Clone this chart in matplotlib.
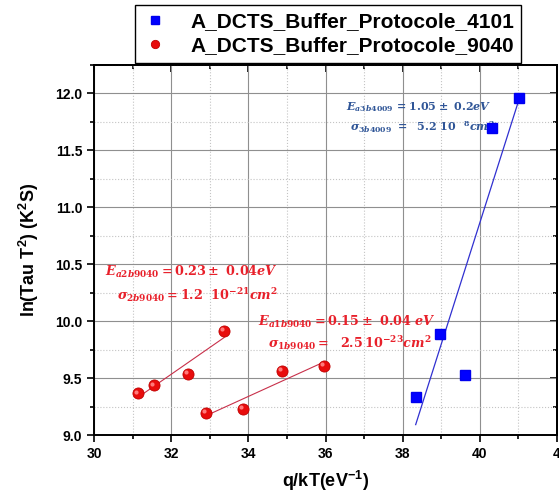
import numpy as np
import matplotlib
matplotlib.use("Agg")
import matplotlib.pyplot as plt
from matplotlib.ticker import MultipleLocator
from matplotlib import transforms

# Arrhenius data: q/kT (eV^-1) vs ln(tau T^2)
x_4101 = [38.34, 38.96, 39.61, 40.31, 41.01]
y_4101 = [9.33, 9.89, 9.53, 11.70, 11.96]

x_9040_low = [31.13, 31.54, 32.43, 33.37]   # second trap (a2b9040)
y_9040_low = [9.365, 9.435, 9.535, 9.913]
x_9040_high = [32.89, 33.86, 34.86, 35.95]  # first trap (a1b9040)
y_9040_high = [9.196, 9.228, 9.565, 9.608]

legend_labels = ["A_DCTS_Buffer_Protocole_4101", "A_DCTS_Buffer_Protocole_9040"]

plt.rcParams['font.family'] = ['Liberation Sans', 'DejaVu Sans']
plt.rcParams['mathtext.fontset'] = 'custom'
plt.rcParams['mathtext.rm'] = 'DejaVu Serif:bold'
plt.rcParams['mathtext.it'] = 'DejaVu Serif:italic:bold'
plt.rcParams['mathtext.bf'] = 'DejaVu Serif:bold'
plt.rcParams['mathtext.sf'] = 'Liberation Sans:bold'

fig = plt.figure(figsize=(5.59, 4.95), dpi=100)
ax = fig.add_axes([0.1687, 0.1212, 0.8272, 0.7475])

ax.set_xlim(30, 42)
ax.set_ylim(9.0, 12.25)
ax.xaxis.set_major_locator(MultipleLocator(2))
ax.xaxis.set_minor_locator(MultipleLocator(1))
ax.yaxis.set_major_locator(MultipleLocator(0.5))
ax.yaxis.set_minor_locator(MultipleLocator(0.25))

ax.grid(which='major', color='#8f8f8f', linewidth=0.8, linestyle='-')
ax.grid(which='minor', color='#c4c4c4', linewidth=0.8, linestyle=':')
ax.set_axisbelow(True)

for s in ax.spines.values():
    s.set_linewidth(1.4)

ax.tick_params(which='both', direction='out', top=False, right=False, width=1.2)
ax.tick_params(which='major', length=5)
ax.tick_params(which='minor', length=3)
# inward ticks on the top and right frames
ax_t = ax.secondary_xaxis('top')
ax_t.xaxis.set_major_locator(MultipleLocator(2))
ax_t.xaxis.set_minor_locator(MultipleLocator(1))
ax_t.tick_params(which='both', direction='in', labeltop=False, width=1.2)
ax_t.tick_params(which='major', length=5)
ax_t.tick_params(which='minor', length=3)
ax_t.spines['top'].set_linewidth(1.4)
ax_r = ax.secondary_yaxis('right')
ax_r.yaxis.set_major_locator(MultipleLocator(0.5))
ax_r.yaxis.set_minor_locator(MultipleLocator(0.25))
ax_r.tick_params(which='both', direction='in', labelright=False, width=1.2)
ax_r.tick_params(which='major', length=5)
ax_r.tick_params(which='minor', length=3)
ax_r.spines['right'].set_linewidth(1.4)

ax.set_xticks([30, 32, 34, 36, 38, 40, 42])
ax.set_xticklabels(['30', '32', '34', '36', '38', '40', '4'])
for lab in ax.get_xticklabels() + ax.get_yticklabels():
    lab.set_fontweight('bold')
    lab.set_fontsize(10)
ax.yaxis.set_major_formatter(matplotlib.ticker.FormatStrFormatter('%.1f'))

# linear fits over each data range
def fit_line(xs, ys):
    xs = np.asarray(xs); ys = np.asarray(ys)
    p = np.polyfit(xs, ys, 1)
    xx = np.array([xs.min(), xs.max()])
    return xx, np.polyval(p, xx)

fx, fy = fit_line(x_4101, y_4101)
ax.plot(fx, fy, color='#3030d0', linewidth=0.9, zorder=3)
fx, fy = fit_line(x_9040_low, y_9040_low)
ax.plot(fx, fy, color='#c8304a', linewidth=0.8, zorder=3)
fx, fy = fit_line(x_9040_high, y_9040_high)
ax.plot(fx, fy, color='#c8304a', linewidth=0.8, zorder=3)

sq, = ax.plot(x_4101, y_4101, 's', color='#0000ff', markersize=7.5,
              markeredgecolor='#0000ee', zorder=4, label=legend_labels[0])
x_9040 = x_9040_low + x_9040_high
y_9040 = y_9040_low + y_9040_high
rd, = ax.plot(x_9040, y_9040, 'o', color='#e80c0c', markersize=8,
              markeredgecolor='#c00000', markeredgewidth=0.6, zorder=4,
              label=legend_labels[1])
hl = transforms.offset_copy(ax.transData, fig=fig, x=-1.2, y=1.2, units='points')
ax.plot(x_9040, y_9040, 'o', color='#ff7a7a', markersize=3, markeredgewidth=0,
        transform=hl, zorder=5)

ax.set_xlabel('q/kT(eV$^{\\mathsf{-1}}$)', fontsize=13, fontweight='bold', labelpad=6)
ax.set_ylabel('ln(Tau T$^{\\mathsf{2}}$) (K$^{\\mathsf{2}}$S)', fontsize=13,
              fontweight='bold', labelpad=10)

blue_txt = '#2f5597'
red_txt = '#e8202a'
ax.text(0.544, 0.886, r'$E_{a3b4009}\,=1.05\pm\ 0.2eV$', transform=ax.transAxes,
        color=blue_txt, fontsize=8.0, va='center', ha='left')
ax.text(0.553, 0.832, r'$\sigma_{3b4009}\ =\ \ 5.2\ 10\ \ {}^{8}cm^{2}$', transform=ax.transAxes,
        color=blue_txt, fontsize=8.0, va='center', ha='left')
ax.text(0.023, 0.4405, r'$E_{a2b9040}=0.23\pm\ 0.04eV$', transform=ax.transAxes,
        color=red_txt, fontsize=9.2, va='center', ha='left')
ax.text(0.049, 0.378, r'$\sigma_{2b9040}=1.2\ \ 10^{-21}cm^{2}$', transform=ax.transAxes,
        color=red_txt, fontsize=9.2, va='center', ha='left')
ax.text(0.354, 0.305, r'$E_{a1b9040}=0.15\pm\ 0.04\ eV$', transform=ax.transAxes,
        color=red_txt, fontsize=9.2, va='center', ha='left')
ax.text(0.376, 0.249, r'$\sigma_{1b9040}=\ \ 2.5\,10^{-23}cm^{2}$', transform=ax.transAxes,
        color=red_txt, fontsize=9.2, va='center', ha='left')

leg = fig.legend(handles=[sq, rd], loc='upper left', bbox_to_anchor=(135 / 559, 1 - 5 / 495),
                 frameon=True, fancybox=False, edgecolor='black', framealpha=1,
                 prop={'weight': 'bold', 'size': 15}, markerscale=0.75,
                 handlelength=1.2, handletextpad=1.1, borderpad=0.35, labelspacing=0.25,
                 borderaxespad=0)
leg.get_frame().set_linewidth(1.0)

fig.savefig('out.png', dpi=100)
